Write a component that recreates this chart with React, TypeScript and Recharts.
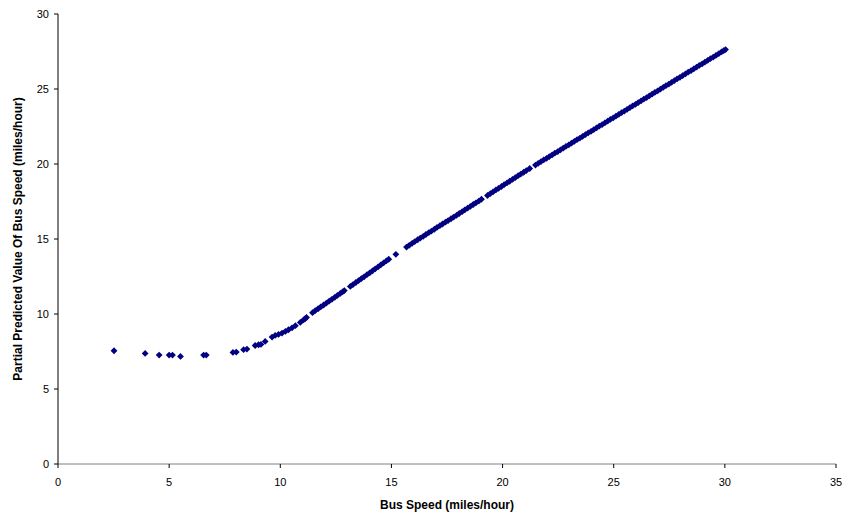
import { ScatterChart, Scatter, XAxis, YAxis } from 'recharts'

// low-speed points, drawn apart from each other
const sparseSpeed = [2.52, 3.92, 4.55, 5.0, 5.15, 5.51, 6.55, 6.67, 7.87, 8.02, 8.35, 8.5, 8.87, 9.02, 9.13, 9.32, 9.63, 9.77, 9.92, 10.08, 10.23, 10.37, 10.53, 10.68, 10.9]
const sparsePredicted = [7.55, 7.37, 7.26, 7.26, 7.26, 7.17, 7.26, 7.26, 7.44, 7.46, 7.62, 7.66, 7.9, 7.95, 7.97, 8.17, 8.46, 8.57, 8.64, 8.73, 8.84, 8.95, 9.08, 9.22, 9.44]

// the dense run of points that reads as a line
const denseSpeed = [
  11.05, 11.12, 11.18,
  11.45, 11.57, 11.7, 11.82, 11.95, 12.07, 12.2, 12.32, 12.45, 12.57, 12.7, 12.8, 12.88,
  13.15, 13.27, 13.4, 13.52, 13.65, 13.77, 13.9, 14.02, 14.15, 14.27, 14.4, 14.52, 14.65, 14.77, 14.88,
  15.2,
  15.68, 15.8, 15.93, 16.05, 16.18, 16.3, 16.43, 16.55, 16.68, 16.8, 16.93, 17.05, 17.18, 17.3, 17.43, 17.55,
  17.68, 17.8, 17.93, 18.05, 18.18, 18.3, 18.43, 18.55, 18.68, 18.8, 18.93, 19.05,
  19.32, 19.45, 19.57, 19.7, 19.82, 19.95, 20.07, 20.2, 20.32, 20.45, 20.57, 20.7, 20.82, 20.95, 21.07, 21.22,
  21.48, 21.6, 21.73, 21.85, 21.98, 22.1, 22.23, 22.35, 22.48, 22.6, 22.73, 22.85, 22.98, 23.1, 23.23, 23.35,
  23.48, 23.6, 23.73, 23.85, 23.98, 24.1, 24.23, 24.35, 24.48, 24.6, 24.73, 24.85, 24.98, 25.1, 25.23, 25.35,
  25.48, 25.6, 25.73, 25.85, 25.98, 26.1, 26.23, 26.35, 26.48, 26.6, 26.73, 26.85, 26.98, 27.1, 27.23, 27.35,
  27.48, 27.6, 27.73, 27.85, 27.98, 28.1, 28.23, 28.35, 28.48, 28.6, 28.73, 28.85, 28.98, 29.1, 29.23, 29.35,
  29.48, 29.6, 29.73, 29.85, 29.95, 30.03,
]
const densePredicted = [
  9.61, 9.69, 9.77,
  10.09, 10.22, 10.35, 10.47, 10.6, 10.72, 10.86, 10.98, 11.11, 11.24, 11.37, 11.47, 11.56,
  11.84, 11.96, 12.1, 12.22, 12.36, 12.48, 12.62, 12.74, 12.88, 13.01, 13.14, 13.27, 13.41, 13.54, 13.65,
  13.98,
  14.46, 14.58, 14.71, 14.83, 14.95, 15.06, 15.18, 15.3, 15.42, 15.53, 15.65, 15.77, 15.89, 16.0, 16.12, 16.23,
  16.35, 16.46, 16.58, 16.7, 16.82, 16.94, 17.06, 17.17, 17.3, 17.41, 17.53, 17.65,
  17.9, 18.03, 18.14, 18.27, 18.38, 18.5, 18.62, 18.74, 18.85, 18.98, 19.09, 19.22, 19.33, 19.45, 19.56, 19.7,
  19.93, 20.04, 20.16, 20.27, 20.38, 20.49, 20.61, 20.72, 20.83, 20.94, 21.06, 21.17, 21.28, 21.39, 21.51, 21.62,
  21.73, 21.84, 21.96, 22.07, 22.18, 22.29, 22.41, 22.52, 22.63, 22.74, 22.86, 22.97, 23.08, 23.19, 23.31, 23.42,
  23.53, 23.64, 23.76, 23.87, 23.98, 24.09, 24.21, 24.32, 24.43, 24.54, 24.66, 24.77, 24.88, 24.99, 25.11, 25.22,
  25.33, 25.44, 25.56, 25.67, 25.78, 25.89, 26.01, 26.12, 26.23, 26.34, 26.46, 26.57, 26.68, 26.79, 26.91, 27.02,
  27.13, 27.24, 27.36, 27.47, 27.56, 27.63,
]

const xTicks = [0, 5, 10, 15, 20, 25, 30, 35]
const yTicks = [0, 5, 10, 15, 20, 25, 30]

const points = [...sparseSpeed, ...denseSpeed].map((x, i) => ({
  x,
  y: i < sparseSpeed.length ? sparsePredicted[i] : densePredicted[i - sparseSpeed.length],
}))

const FONT = '"Liberation Sans", Arial, sans-serif'
const NAVY = '#000080'

// Excel-style square diamond marker
const Diamond = (props: any) => {
  const { cx, cy } = props
  const r = 3.4
  return <polygon points={`${cx},${cy - r} ${cx + r},${cy} ${cx},${cy + r} ${cx - r},${cy}`} fill={NAVY} />
}

const YTitle = () => (
  <text
    x={18}
    y={239}
    transform="rotate(-90 18 239)"
    textAnchor="middle"
    dominantBaseline="central"
    fontFamily={FONT}
    fontSize={12}
    fontWeight={700}
    fill="#000"
  >
    Partial Predicted Value Of Bus Speed (miles/hour)
  </text>
)

export default function App() {
  return (
    <div style={{ position: 'absolute', left: 0, top: 0, background: '#fff' }}>
      <ScatterChart width={843} height={517} margin={{ top: 14, right: 7, bottom: 0, left: 0 }}>
        <XAxis
          type="number"
          dataKey="x"
          domain={[0, 35]}
          ticks={xTicks}
          interval={0}
          height={53}
          tickSize={4}
          tickMargin={10}
          axisLine={{ stroke: '#808080' }}
          tickLine={{ stroke: '#000' }}
          tick={{ fontSize: 11, fill: '#000', fontFamily: FONT }}
          label={{ value: 'Bus Speed (miles/hour)', position: 'insideBottom', offset: 8, fontSize: 12, fontWeight: 700, fill: '#000', fontFamily: FONT }}
        />
        <YAxis
          type="number"
          dataKey="y"
          domain={[0, 30]}
          ticks={yTicks}
          interval={0}
          width={58}
          tickSize={4}
          tickMargin={5}
          axisLine={{ stroke: '#000' }}
          tickLine={{ stroke: '#000' }}
          tick={{ fontSize: 11, fill: '#000', fontFamily: FONT }}
          label={{ content: () => <YTitle /> }}
        />
        <Scatter data={points} shape={<Diamond />} isAnimationActive={false} />
      </ScatterChart>
    </div>
  )
}
